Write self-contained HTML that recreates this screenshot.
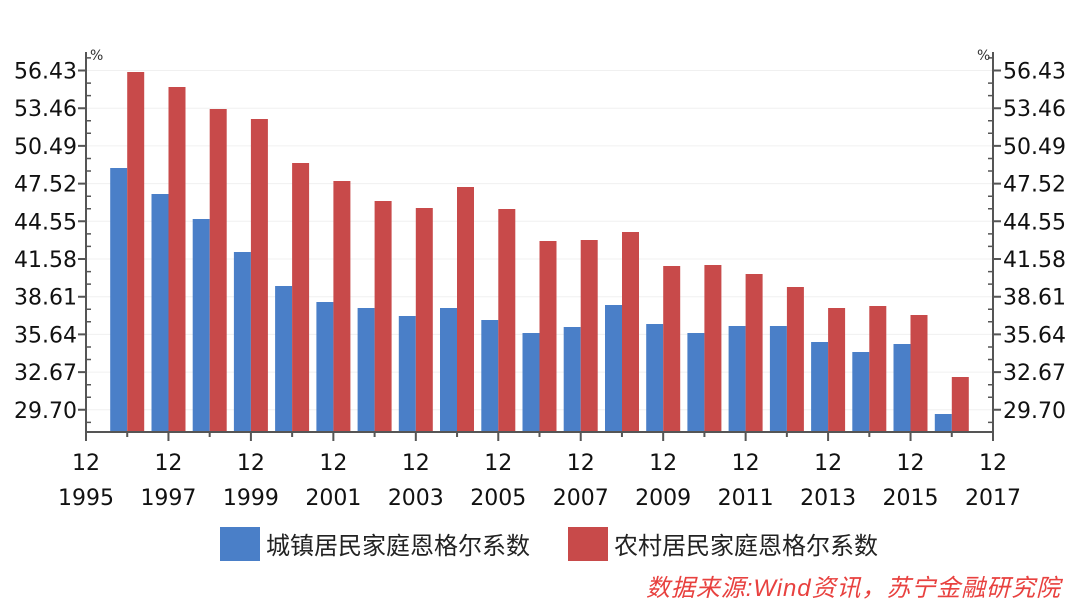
<!DOCTYPE html>
<html><head><meta charset="utf-8"><style>
html,body{margin:0;padding:0;background:#fff;}
svg{display:block;font-family:"DejaVu Sans","Liberation Sans",sans-serif;}
</style></head><body>
<svg width="1080" height="607" xmlns="http://www.w3.org/2000/svg">
<g stroke="#f0f0f0" stroke-width="1">
<line x1="86" x2="993" y1="70.5" y2="70.5"/><line x1="86" x2="993" y1="108.2" y2="108.2"/><line x1="86" x2="993" y1="145.9" y2="145.9"/><line x1="86" x2="993" y1="183.6" y2="183.6"/><line x1="86" x2="993" y1="221.3" y2="221.3"/><line x1="86" x2="993" y1="259" y2="259"/><line x1="86" x2="993" y1="296.7" y2="296.7"/><line x1="86" x2="993" y1="334.4" y2="334.4"/><line x1="86" x2="993" y1="372.1" y2="372.1"/><line x1="86" x2="993" y1="409.8" y2="409.8"/>
</g>
<g fill="#4a7fc8">
<rect x="110.2" y="168" width="17" height="264"/>
<rect x="151.5" y="194" width="17" height="238"/>
<rect x="192.7" y="219" width="17" height="213"/>
<rect x="233.9" y="252" width="17" height="180"/>
<rect x="275.1" y="286" width="17" height="146"/>
<rect x="316.4" y="302" width="17" height="130"/>
<rect x="357.6" y="308" width="17" height="124"/>
<rect x="398.8" y="316" width="17" height="116"/>
<rect x="440" y="308" width="17" height="124"/>
<rect x="481.3" y="320" width="17" height="112"/>
<rect x="522.5" y="333" width="17" height="99"/>
<rect x="563.7" y="327" width="17" height="105"/>
<rect x="605" y="305" width="17" height="127"/>
<rect x="646.2" y="324" width="17" height="108"/>
<rect x="687.4" y="333" width="17" height="99"/>
<rect x="728.6" y="326" width="17" height="106"/>
<rect x="769.9" y="326" width="17" height="106"/>
<rect x="811.1" y="342" width="17" height="90"/>
<rect x="852.3" y="352" width="17" height="80"/>
<rect x="893.5" y="344" width="17" height="88"/>
<rect x="934.8" y="414" width="17" height="18"/>
</g>
<g fill="#c84a4a">
<rect x="127.2" y="72" width="17" height="360"/>
<rect x="168.5" y="87" width="17" height="345"/>
<rect x="209.7" y="109" width="17" height="323"/>
<rect x="250.9" y="119" width="17" height="313"/>
<rect x="292.1" y="163" width="17" height="269"/>
<rect x="333.4" y="181" width="17" height="251"/>
<rect x="374.6" y="201" width="17" height="231"/>
<rect x="415.8" y="208" width="17" height="224"/>
<rect x="457" y="187" width="17" height="245"/>
<rect x="498.3" y="209" width="17" height="223"/>
<rect x="539.5" y="241" width="17" height="191"/>
<rect x="580.7" y="240" width="17" height="192"/>
<rect x="622" y="232" width="17" height="200"/>
<rect x="663.2" y="266" width="17" height="166"/>
<rect x="704.4" y="265" width="17" height="167"/>
<rect x="745.6" y="274" width="17" height="158"/>
<rect x="786.9" y="287" width="17" height="145"/>
<rect x="828.1" y="308" width="17" height="124"/>
<rect x="869.3" y="306" width="17" height="126"/>
<rect x="910.5" y="315" width="17" height="117"/>
<rect x="951.8" y="377" width="17" height="55"/>
</g>
<g stroke="#555" fill="none">
<path stroke-width="2" d="M86 52 V432 H993 V52"/>
<path stroke-width="2" d="M78 70.5H86M78 108.2H86M78 145.9H86M78 183.6H86M78 221.3H86M78 259H86M78 296.7H86M78 334.4H86M78 372.1H86M78 409.8H86 M993 70.5H1001M993 108.2H1001M993 145.9H1001M993 183.6H1001M993 221.3H1001M993 259H1001M993 296.7H1001M993 334.4H1001M993 372.1H1001M993 409.8H1001"/>
<path stroke-width="1.5" d="M86 57.9h5M86 83.1h5M86 95.6h5M86 120.8h5M86 133.3h5M86 158.5h5M86 171h5M86 196.2h5M86 208.7h5M86 233.9h5M86 246.4h5M86 271.6h5M86 284.1h5M86 309.3h5M86 321.8h5M86 347h5M86 359.5h5M86 384.7h5M86 397.2h5M86 422.4h5 M988 57.9h5M988 83.1h5M988 95.6h5M988 120.8h5M988 133.3h5M988 158.5h5M988 171h5M988 196.2h5M988 208.7h5M988 233.9h5M988 246.4h5M988 271.6h5M988 284.1h5M988 309.3h5M988 321.8h5M988 347h5M988 359.5h5M988 384.7h5M988 397.2h5M988 422.4h5"/>
<path stroke-width="2" d="M86 432v9M168.45 432v9M250.91 432v9M333.36 432v9M415.82 432v9M498.27 432v9M580.73 432v9M663.18 432v9M745.64 432v9M828.09 432v9M910.55 432v9M993 432v9"/>
<path stroke-width="2" d="M127.23 432v5M209.68 432v5M292.14 432v5M374.59 432v5M457.05 432v5M539.5 432v5M621.95 432v5M704.41 432v5M786.86 432v5M869.32 432v5M951.77 432v5"/>
</g>
<g font-size="22" fill="#111" text-anchor="end">
<text x="77" y="78.5">56.43</text><text x="77" y="116.2">53.46</text><text x="77" y="153.9">50.49</text><text x="77" y="191.6">47.52</text><text x="77" y="229.3">44.55</text><text x="77" y="267">41.58</text><text x="77" y="304.7">38.61</text><text x="77" y="342.4">35.64</text><text x="77" y="380.1">32.67</text><text x="77" y="417.8">29.70</text>
</g>
<g font-size="22" fill="#111">
<text x="1003" y="78.5">56.43</text><text x="1003" y="116.2">53.46</text><text x="1003" y="153.9">50.49</text><text x="1003" y="191.6">47.52</text><text x="1003" y="229.3">44.55</text><text x="1003" y="267">41.58</text><text x="1003" y="304.7">38.61</text><text x="1003" y="342.4">35.64</text><text x="1003" y="380.1">32.67</text><text x="1003" y="417.8">29.70</text>
</g>
<g font-size="22" fill="#111" text-anchor="middle">
<text x="86" y="470">12</text><text x="168.45" y="470">12</text><text x="250.91" y="470">12</text><text x="333.36" y="470">12</text><text x="415.82" y="470">12</text><text x="498.27" y="470">12</text><text x="580.73" y="470">12</text><text x="663.18" y="470">12</text><text x="745.64" y="470">12</text><text x="828.09" y="470">12</text><text x="910.55" y="470">12</text><text x="993" y="470">12</text>
<text x="86" y="505">1995</text><text x="168.45" y="505">1997</text><text x="250.91" y="505">1999</text><text x="333.36" y="505">2001</text><text x="415.82" y="505">2003</text><text x="498.27" y="505">2005</text><text x="580.73" y="505">2007</text><text x="663.18" y="505">2009</text><text x="745.64" y="505">2011</text><text x="828.09" y="505">2013</text><text x="910.55" y="505">2015</text><text x="993" y="505">2017</text>
</g>
<text x="90" y="60" font-size="14" fill="#333">%</text>
<text x="977" y="60" font-size="14" fill="#333">%</text>
<rect x="220" y="527" width="40" height="34" fill="#4a7fc8"/>
<text x="266" y="554" font-size="24" fill="#222" font-family="'Liberation Sans','Noto Sans CJK SC',sans-serif">城镇居民家庭恩格尔系数</text>
<rect x="568" y="527" width="40" height="34" fill="#c84a4a"/>
<text x="614" y="554" font-size="24" fill="#222" font-family="'Liberation Sans','Noto Sans CJK SC',sans-serif">农村居民家庭恩格尔系数</text>
<text x="646" y="596" font-size="24" fill="#e8413f" font-style="italic" font-family="'Liberation Sans','Noto Sans CJK SC',sans-serif" textLength="414">数据来源:Wind资讯，苏宁金融研究院</text>
</svg>
</body></html>
